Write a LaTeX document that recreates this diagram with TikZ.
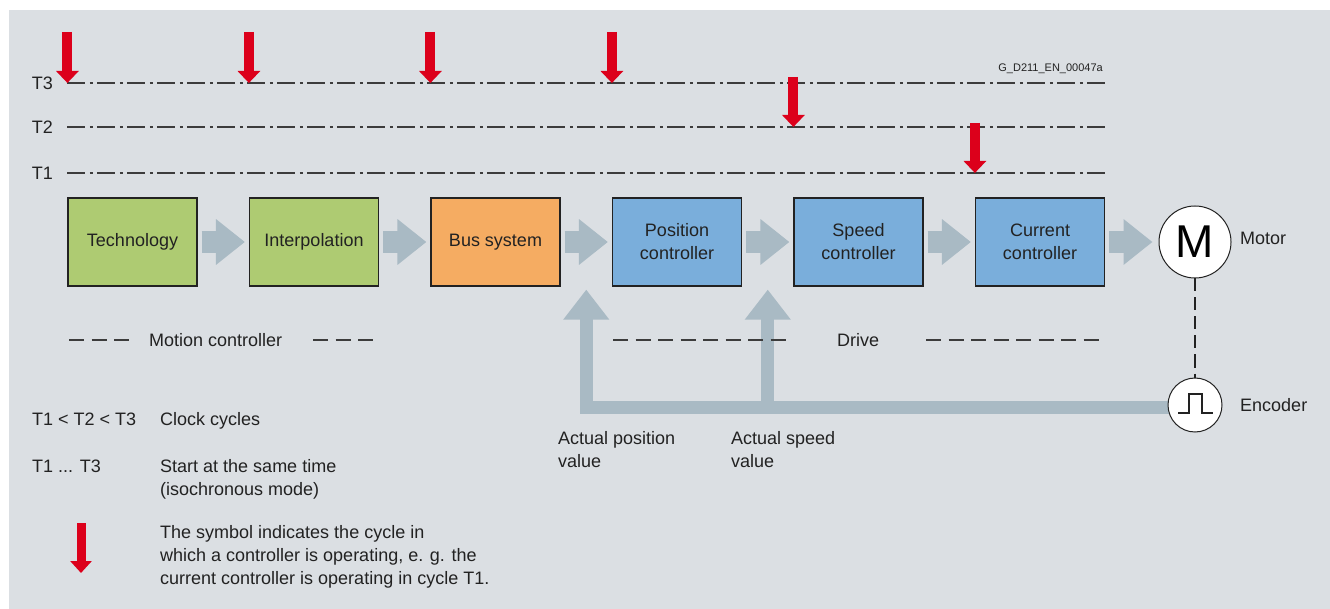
\documentclass[tikz,border=0pt]{standalone}
\usepackage{fontspec}
\setmainfont{Liberation Sans}
\usetikzlibrary{arrows.meta,calc}
\definecolor{bgpanel}{RGB}{219,223,227}
\definecolor{flowc}{RGB}{169,186,196}
\definecolor{greenc}{RGB}{174,203,114}
\definecolor{orangec}{RGB}{245,172,98}
\definecolor{bluec}{RGB}{122,174,219}
\definecolor{redc}{RGB}{220,0,27}
\definecolor{linec}{RGB}{60,60,60}
\definecolor{txtc}{RGB}{34,34,34}
\begin{document}
\begin{tikzpicture}[x=1pt,y=-1pt,
  txt/.style={inner sep=0pt, font=\fontsize{18}{23}\selectfont, text=txtc},
  smalltxt/.style={inner sep=0pt, font=\fontsize{11}{13}\selectfont, text=txtc},
  box/.style={draw=txtc, line width=1.2pt, minimum width=129pt, minimum height=88pt,
    inner sep=0pt, align=center, font=\fontsize{18}{23}\selectfont, text=txtc},
  flow/.style={draw=flowc, line width=22pt, -{Triangle[width=44pt,length=29pt]}},
  fb/.style={draw=flowc, line width=13pt, -{Triangle[width=44pt,length=30pt]}},
  redarr/.style={draw=redc, line width=10pt, -{Triangle[width=22pt,length=12pt]}},
  legarr/.style={draw=redc, line width=9pt, -{Triangle[width=21pt,length=12pt]}},
  clockline/.style={draw=linec, line width=1.3pt, dash pattern=on 18pt off 4.5pt on 3pt off 4.5pt},
  sepline/.style={draw=linec, line width=1.5pt, dash pattern=on 15pt off 7.5pt},
  roundel/.style={circle, draw=txtc, line width=1pt, fill=white, inner sep=0pt}
]
\useasboundingbox (0,0) rectangle (1330,609);
\fill[bgpanel] (9,10) rectangle (1330,609);

% code label
\node[smalltxt, anchor=base east] (code) at (1103,72) {G\_D211\_EN\_00047a};

% boxes
\node[box, fill=greenc] (tech) at (132.5,242) {Technology};
\node[box, fill=greenc] (interp) at (314,242) {Interpolation};
\node[box, fill=orangec] (bus) at (495.5,242) {Bus system};
\node[box, fill=bluec] (pos) at (677,242) {Position\\controller};
\node[box, fill=bluec] (speed) at (858.5,242) {Speed\\controller};
\node[box, fill=bluec] (curr) at (1040,242) {Current\\controller};

% clock lines
\coordinate (T3s) at (tech.west |- 0,83);
\coordinate (T3e) at (curr.east |- 0,83);
\coordinate (T2s) at (tech.west |- 0,127);
\coordinate (T2e) at (curr.east |- 0,127);
\coordinate (T1s) at (tech.west |- 0,173);
\coordinate (T1e) at (curr.east |- 0,173);
\draw[clockline] (T3s) -- (T3e);
\draw[clockline] (T2s) -- (T2e);
\draw[clockline] (T1s) -- (T1e);
\node[txt, anchor=base east] (lT3) at (53,89.5) {T3};
\node[txt, anchor=base east] (lT2) at (53,134) {T2};
\node[txt, anchor=base east] (lT1) at (53,180) {T1};

% red cycle arrows
\draw[redarr] (tech.west |- 0,32) -- (tech.west |- T3s);
\draw[redarr] (interp.west |- 0,32) -- (interp.west |- T3s);
\draw[redarr] (bus.west |- 0,32) -- (bus.west |- T3s);
\draw[redarr] (pos.west |- 0,32) -- (pos.west |- T3s);
\draw[redarr] (speed.west |- 0,77) -- (speed.west |- T2s);
\draw[redarr] (curr.west |- 0,123) -- (curr.west |- T1s);

% motor
\node[roundel, minimum size=72pt, font=\fontsize{46}{50}\selectfont] (motor) at (1195,242) {M};

% flow arrows
\draw[flow] ([xshift=4pt]tech.east) -- ([xshift=-4pt]interp.west);
\draw[flow] ([xshift=4pt]interp.east) -- ([xshift=-4pt]bus.west);
\draw[flow] ([xshift=4pt]bus.east) -- ([xshift=-4pt]pos.west);
\draw[flow] ([xshift=4pt]pos.east) -- ([xshift=-4pt]speed.west);
\draw[flow] ([xshift=4pt]speed.east) -- ([xshift=-4pt]curr.west);
\draw[flow] ([xshift=4pt]curr.east) -- ([xshift=-6pt]motor.west);

% feedback (drawn beneath the encoder)
\coordinate (fbstart) at (1195,407.5);
\coordinate (fbpos) at ($(bus.south east)!0.5!(pos.south west)+(0,3)$);
\coordinate (fbspdtip) at ($(pos.south east)!0.5!(speed.south west)+(0,3)$);
\coordinate (fbspd) at (fbspdtip |- fbstart);
\draw[fb] (fbstart) -| (fbpos);
\draw[fb] (fbspd) -- (fbspdtip);

% encoder
\node[roundel, minimum size=54pt] (enc) at (1195,405) {};
\draw[txtc, line width=1.8pt, line join=miter]
  ($(enc.center)+(-17,8)$) -- ($(enc.center)+(-6,8)$) -- ($(enc.center)+(-6,-11)$)
  -- ($(enc.center)+(7,-11)$) -- ($(enc.center)+(7,8)$) -- ($(enc.center)+(18,8)$);
\draw[txtc, line width=1.3pt, dash pattern=on 13pt off 6pt] (motor.south) -- (enc.north);
\node[txt, anchor=base west] (lmotor) at (1240,244.5) {Motor};
\node[txt, anchor=base west] (lenc) at (1240,411) {Encoder};

% section separators
\draw[sepline] (69,340) -- (129,340);
\node[txt, anchor=base west] (lmc) at (149,346.5) {Motion controller};
\draw[sepline] (313,340) -- (373,340);
\draw[sepline] (613,340) -- (786,340);
\node[txt, anchor=base west] (ldrive) at (837,346.5) {Drive};
\draw[sepline] (926,340) -- (1099,340);

% feedback labels
\node[txt, anchor=base west] (lap1) at (558,444) {Actual position};
\node[txt, anchor=base west] (lap2) at (558,467) {value};
\node[txt, anchor=base west] (las1) at (731,444) {Actual speed};
\node[txt, anchor=base west] (las2) at (731,467) {value};

% legend
\node[txt, anchor=base west] (g1a) at (32,425) {T1 < T2 < T3};
\node[txt, anchor=base west] (g1b) at (160,425) {Clock cycles};
\node[txt, anchor=base west] (g2a) at (32,472) {T1 ... T3};
\node[txt, anchor=base west] (g2b) at (160,472) {Start at the same time};
\node[txt, anchor=base west] (g2c) at (160,495) {(isochronous mode)};
\coordinate (legtop) at (81,523);
\coordinate (legtip) at (81,573);
\draw[legarr] (legtop) -- (legtip);
\node[txt, anchor=base west] (g3a) at (160,538) {The symbol indicates the cycle in};
\node[txt, anchor=base west] (g3b) at (160,561) {which a controller is operating, e. g. the};
\node[txt, anchor=base west] (g3c) at (160,584) {current controller is operating in cycle T1.};
\end{tikzpicture}
\end{document}
